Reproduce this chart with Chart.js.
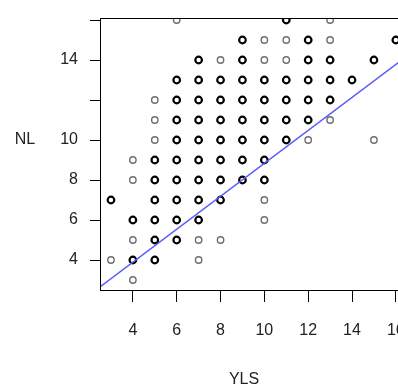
<!DOCTYPE html>
<html>
<head>
<meta charset="utf-8">
<script src="https://cdn.jsdelivr.net/npm/chart.js@4/dist/chart.umd.min.js"></script>
<style>
  html, body { margin: 0; padding: 0; background: #fff; overflow: hidden; }
  canvas { display: block; }
</style>
</head>
<body>
<canvas id="scatter__yls__nl" width="420" height="389" style="width:420px;height:389px"></canvas>
<script>
// YLS vs NL, light = single obs, dark = overplotted
const lightPts = [
    [6, 16], [13, 16],
    [10, 15], [11, 15], [13, 15],
    [8, 14], [10, 14], [11, 14],
    [5, 12],
    [5, 11], [13, 11],
    [5, 10], [12, 10], [15, 10],
    [4, 9],
    [4, 8],
    [10, 7],
    [10, 6],
    [4, 5], [7, 5], [8, 5],
    [3, 4], [7, 4],
    [4, 3]
];
const darkPts = [
    [11, 16],
    [9, 15], [12, 15], [16, 15],
    [7, 14], [9, 14], [12, 14], [13, 14], [15, 14],
    [6, 13], [7, 13], [8, 13], [9, 13], [10, 13], [11, 13], [12, 13], [13, 13], [14, 13],
    [6, 12], [7, 12], [8, 12], [9, 12], [10, 12], [11, 12], [12, 12], [13, 12],
    [6, 11], [7, 11], [8, 11], [9, 11], [10, 11], [11, 11], [12, 11],
    [6, 10], [7, 10], [8, 10], [9, 10], [10, 10], [11, 10],
    [5, 9], [6, 9], [7, 9], [8, 9], [9, 9], [10, 9],
    [5, 8], [6, 8], [7, 8], [8, 8], [9, 8], [10, 8],
    [3, 7], [5, 7], [6, 7], [7, 7], [8, 7],
    [4, 6], [5, 6], [6, 6], [7, 6],
    [5, 5], [6, 5],
    [4, 4], [5, 4]
];
// fitted line: NL = a + b * YLS
const fitCoef = [0.59, 0.824];
const xTicks = [4, 6, 8, 10, 12, 14, 16];
const yTicks = [4, 6, 8, 10, 12, 14, 16];
const yTickLabels = ['4', '6', '8', '10', '', '14', ''];
const xRange = [2.5, 16.6];
const yRange = [2.5, 16.1];

const toXY = p => ({x: p[0], y: p[1]});
const fitLine = xRange.map(x => ({x: x, y: fitCoef[0] + fitCoef[1] * x}));

const FONT = "'Liberation Sans', Arial, sans-serif";

// box around plot + horizontal axis titles
const frameAndTitles = {
    id: 'frameAndTitles',
    afterDraw(chart) {
        const {ctx, chartArea, scales} = chart;
        ctx.save();
        ctx.strokeStyle = '#000';
        ctx.lineWidth = 1;
        ctx.strokeRect(chartArea.left + 0.5, chartArea.top + 0.5,
            chartArea.right - chartArea.left, chartArea.bottom - chartArea.top);
        ctx.fillStyle = '#222';
        ctx.font = '16px ' + FONT;
        ctx.textAlign = 'center';
        ctx.textBaseline = 'middle';
        ctx.fillText('NL', 25, scales.y.getPixelForValue(10));
        ctx.fillText('YLS', 244, 380);
        ctx.restore();
    }
};

let ctx__yls = document.getElementById('scatter__yls__nl').getContext('2d');
new Chart(ctx__yls, {
    type: 'scatter',
    data: {
        datasets: [{
            type: 'line',
            label: 'fit',
            data: fitLine,
            borderColor: '#5a5aff',
            borderWidth: 1.5,
            pointRadius: 0,
            fill: false,
            order: 0
        }, {
            label: 'overplotted',
            data: darkPts.map(toXY),
            pointStyle: 'circle',
            pointRadius: 3.3,
            borderWidth: 2.2,
            pointBorderColor: '#000',
            pointBackgroundColor: 'rgba(0,0,0,0)',
            order: 1
        }, {
            label: 'single',
            data: lightPts.map(toXY),
            pointStyle: 'circle',
            pointRadius: 3.2,
            borderWidth: 1.4,
            pointBorderColor: '#6e6e6e',
            pointBackgroundColor: 'rgba(0,0,0,0)',
            order: 2
        }]
    },
    options: {
        responsive: false,
        animation: false,
        layout: {
            padding: {top: 18, right: 11, left: 0, bottom: 0}
        },
        plugins: {
            legend: { display: false },
            tooltip: { enabled: false }
        },
        scales: {
            x: {
                type: 'linear',
                min: xRange[0],
                max: xRange[1],
                afterBuildTicks: s => { s.ticks = xTicks.map(v => ({value: v})); },
                afterFit: s => { s.height = 99; s.paddingLeft = 0; s.paddingRight = 0; },
                grid: { drawOnChartArea: false, tickLength: 12, color: '#000' },
                border: { display: true, color: '#000' },
                ticks: {
                    color: '#222',
                    padding: 19,
                    maxRotation: 0,
                    font: { family: FONT, size: 16 }
                }
            },
            y: {
                type: 'linear',
                min: yRange[0],
                max: yRange[1],
                afterBuildTicks: s => { s.ticks = yTicks.map(v => ({value: v})); },
                afterFit: s => { s.width = 100; s.paddingTop = 0; s.paddingBottom = 0; },
                grid: { drawOnChartArea: false, tickLength: 10, color: '#000' },
                border: { display: true, color: '#000' },
                ticks: {
                    color: '#222',
                    padding: 12,
                    font: { family: FONT, size: 16 },
                    callback: (v) => yTickLabels[yTicks.indexOf(v)]
                }
            }
        }
    },
    plugins: [frameAndTitles]
});
</script>
</body>
</html>
